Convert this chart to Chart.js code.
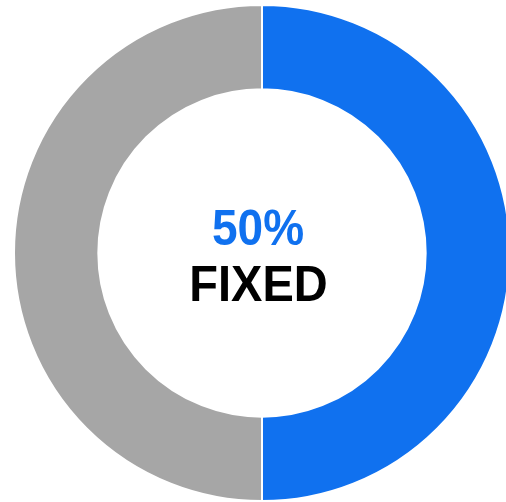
<!DOCTYPE html>
<html>
<head>
<meta charset="utf-8">
<script src="https://cdn.jsdelivr.net/npm/chart.js@4.4.0/dist/chart.umd.min.js"></script>
<style>
    html, body { margin: 0; padding: 0; overflow: hidden; background: #fff; }
    #wrap { position: absolute; left: 13px; top: 4px; width: 498px; height: 498px; }
</style>
</head>
<body>
<div id="wrap"><canvas id="myChart"></canvas></div>
<script>
const labels = ['Fixed', 'Other'];
const values = [50, 50];
const colors = ['#1071ef', '#a6a6a6'];
const centerValue = '50%';
const centerLabel = 'FIXED';

// center text drawn in the hole
const centerText = {
    id: 'centerText',
    afterDraw(chart) {
        const ctx = chart.ctx;
        const arc = chart.getDatasetMeta(0).data[0];
        const x = arc.x - 4, y = arc.y;
        ctx.save();
        ctx.textAlign = 'center';
        ctx.textBaseline = 'alphabetic';
        ctx.fillStyle = colors[0];
        ctx.font = 'bold 46px Arial, "Liberation Sans", sans-serif';
        ctx.save();
        ctx.translate(x, y - 8);
        ctx.scale(1, 1.07);
        ctx.fillText(centerValue, 0, 0);
        ctx.restore();
        ctx.fillStyle = '#000';
        ctx.font = 'bold 47px Arial, "Liberation Sans", sans-serif';
        ctx.translate(x + 0.5, y + 48);
        ctx.scale(1, 1.05);
        ctx.fillText(centerLabel, 0, 0);
        ctx.restore();
    }
};

new Chart(document.getElementById('myChart'), {
    type: 'doughnut',
    data: {
        labels: labels,
        datasets: [{
            data: values,
            backgroundColor: colors,
            borderColor: '#fff',
            borderWidth: 2
        }]
    },
    options: {
        responsive: true,
        maintainAspectRatio: false,
        animation: false,
        cutout: '66%',
        plugins: {
            legend: { display: false },
            tooltip: { enabled: false }
        }
    },
    plugins: [centerText]
});
</script>
</body>
</html>
